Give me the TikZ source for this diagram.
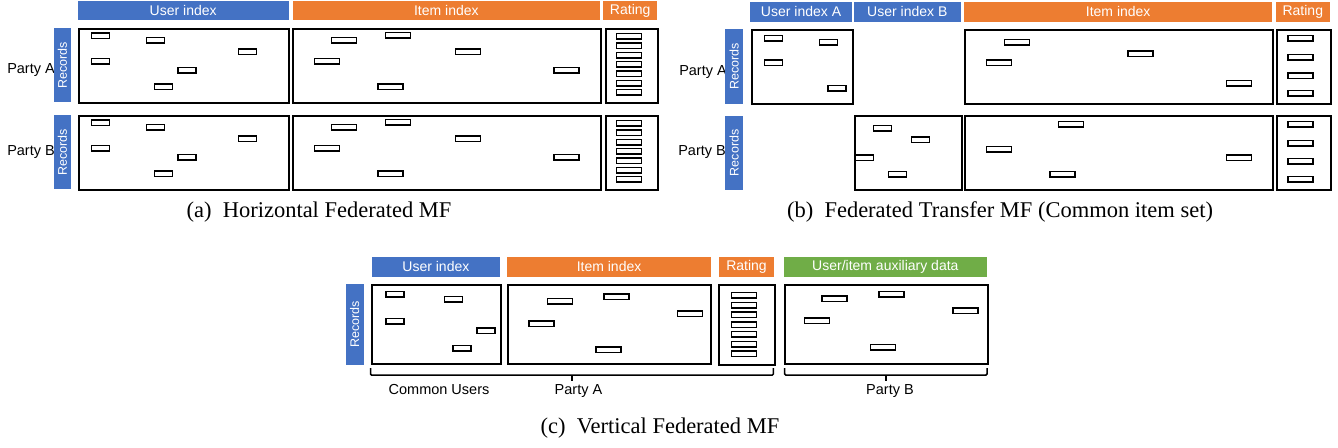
\documentclass[tikz,border=0pt]{standalone}
\usepackage{fontspec}
\usepackage{graphicx}
\setmainfont{Liberation Serif}
\newfontfamily\labfont{Liberation Sans}
\definecolor{hblue}{HTML}{4472C4}
\definecolor{horange}{HTML}{ED7D31}
\definecolor{hgreen}{HTML}{70AD47}
\tikzset{
  hdr/.style={fill=#1, draw=none, text=white, font=\labfont\fontsize{14}{16}\selectfont, inner sep=0pt},
  recbar/.style={fill=hblue, draw=none, text=white, font=\labfont\fontsize{12.5}{14}\selectfont, inner sep=0pt},
  frame/.style={draw=black, line width=2pt, fill=white, inner sep=0pt},
  cell/.style={draw=black, line width=1.5pt, fill=white},
  lab/.style={font=\labfont\fontsize{14.5}{16}\selectfont, inner sep=0pt},
  captxt/.style={font=\fontsize{22.5}{25}\selectfont, inner sep=0pt},
  brace/.style={draw=black, line width=1.5pt, rounded corners=1pt}
}
\newcommand{\blk}[7]{\node[#2, anchor=north west, minimum width={#5pt-#3pt}, minimum height={#6pt-#4pt}] (#1) at (#3,#4) {#7};}
\newcommand{\ucell}[2]{\draw[cell] (#1,#2) rectangle ++(18,5.5);}
\newcommand{\icell}[2]{\draw[cell] (#1,#2) rectangle ++(25,5.5);}
\begin{document}
\begin{tikzpicture}[x=1pt,y=-1pt]
\useasboundingbox[fill=white] (0,0) rectangle (1338,447);

% ================= (a) =================
\node[lab, anchor=base east] (aPA) at (55,73) {Party A};
\node[lab, anchor=base east] (aPB) at (55,155.5) {Party B};
\blk{aHU}{hdr=hblue}{77.5}{0.7}{288.5}{20}{User index}
\blk{aHI}{hdr=horange}{292.3}{0.7}{600}{20}{Item index}
\blk{aHR}{hdr=horange}{603}{0.7}{657}{20}{Rating}
\blk{aRA}{recbar}{53.5}{28}{71}{102}{\rotatebox{90}{Records}}
\blk{aRB}{recbar}{53.5}{115}{71}{189}{\rotatebox{90}{Records}}
\blk{aUA}{frame}{78.3}{27.7}{288}{102.3}{}
\blk{aIA}{frame}{292.3}{27.7}{600.3}{102.3}{}
\blk{aTA}{frame}{604.6}{27.7}{657}{102.3}{}
\blk{aUB}{frame}{78.3}{114.7}{288}{189.3}{}
\blk{aIB}{frame}{292.3}{114.7}{600.3}{189.3}{}
\blk{aTB}{frame}{604.6}{114.7}{657}{189.3}{}
\foreach \dy in {0,87}{
  \begin{scope}[shift={(0,\dy)}]
    \ucell{91.4}{33}\ucell{146.5}{37.7}\ucell{238.4}{49}
    \ucell{91.4}{58.7}\ucell{178.2}{67.7}\ucell{154.5}{84}
    \icell{331.5}{37.7}\icell{385.3}{32.7}\icell{455.5}{49}
    \icell{314.6}{58.7}\icell{554.2}{67.7}\icell{378}{84}
    \foreach \yy in {33.5,43.2,52.6,61.5,71,80.6,89.3}{\icell{616.4}{\yy}}
  \end{scope}
}
\node[captxt] (capA) at (319,212) {(a)\hspace{0.5em}Horizontal Federated MF};

% ================= (b) =================
\node[lab, anchor=base east] (bPA) at (727,75) {Party A};
\node[lab, anchor=base east] (bPB) at (726,155) {Party B};
\blk{bHUA}{hdr=hblue}{750}{1.7}{851.7}{21.7}{User index A}
\blk{bHUB}{hdr=hblue}{853.5}{1.7}{960.7}{21.7}{User index B}
\blk{bHI}{hdr=horange}{964}{1.7}{1272}{21.7}{Item index}
\blk{bHR}{hdr=horange}{1275.6}{1.7}{1329.6}{21.7}{Rating}
\blk{bRA}{recbar}{725}{29}{743}{103.3}{\rotatebox{90}{Records}}
\blk{bRB}{recbar}{725}{116}{743}{189.3}{\rotatebox{90}{Records}}
\blk{bUA}{frame}{750.5}{29.3}{851.7}{103.3}{}
\blk{bIA}{frame}{964.3}{29.3}{1272}{103.3}{}
\blk{bTA}{frame}{1275.6}{29.3}{1329.6}{103.3}{}
\blk{bUB}{frame}{853.5}{115.3}{960.7}{189.3}{}
\blk{bIB}{frame}{964.3}{115.3}{1272}{189.3}{}
\blk{bTB}{frame}{1275.6}{115.3}{1329.6}{189.3}{}
\ucell{764.3}{35.3}\ucell{819.6}{39.3}\ucell{764.3}{60}\ucell{827.8}{85.7}
\icell{1004.3}{39.3}\icell{1127.8}{50.9}\icell{986.5}{60}\icell{1226.5}{80.7}
\foreach \yy in {35.3,54.3,73,90.3}{\icell{1287.8}{\yy}}
\ucell{873.5}{125.7}\ucell{911.7}{136.8}\ucell{855.7}{155}\ucell{888.7}{171.3}
\icell{1058.3}{121.7}\icell{986.5}{146.4}\icell{1226.5}{155}\icell{1050}{171.3}
\foreach \yy in {121.6,140.5,158.5,176.6}{\icell{1287.8}{\yy}}
\node[captxt] (capB) at (1000,212) {(b)\hspace{0.5em}Federated Transfer MF (Common item set)};

% ================= (c) =================
\blk{cHU}{hdr=hblue}{371.4}{256.7}{500}{276.7}{User index}
\blk{cHI}{hdr=horange}{506.7}{256.7}{711}{276.7}{Item index}
\blk{cHR}{hdr=horange}{718.4}{256.7}{774.2}{276.7}{Rating}
\blk{cHX}{hdr=hgreen}{783.3}{256.7}{987}{276.7}{User/item auxiliary data}
\blk{cR}{recbar}{345.3}{284}{363.6}{364.3}{\rotatebox{90}{Records}}
\blk{cU}{frame}{371.4}{284.3}{500}{363.3}{}
\blk{cI}{frame}{506.7}{284.3}{710.3}{363.3}{}
\blk{cT}{frame}{718.4}{284.3}{774.2}{364.3}{}
\blk{cX}{frame}{784.3}{284.3}{987}{363.3}{}
\ucell{385.8}{291.7}\ucell{444.6}{296.3}\ucell{385.8}{318.7}\ucell{476.9}{327.8}\ucell{453}{345.7}
\icell{547.5}{298.3}\icell{604.2}{294}\icell{677.4}{310.9}\icell{528.8}{320.9}\icell{596}{347.2}
\foreach \yy in {292.3,302.3,312,322,331.6,341.6,351}{\icell{731.5}{\yy}}
\icell{822.2}{296.1}\icell{878.8}{291.4}\icell{952.9}{308.1}\icell{804.3}{318.2}\icell{870.5}{344.7}
% braces
\coordinate (bl1) at (370.5,368);
\coordinate (bl2) at (773.3,368);
\coordinate (blm) at (572,375);
\coordinate (br1) at (784.7,368);
\coordinate (br2) at (987,368);
\coordinate (brm) at (885.8,375);
\draw[brace] (bl1) -- (370.5,375) -- (773.3,375) -- (bl2);
\draw[brace] (blm) -- ++(0,6);
\draw[brace] (br1) -- (784.7,375) -- (987,375) -- (br2);
\draw[brace] (brm) -- ++(0,6);
\node[lab, anchor=base] (cCU) at (439,394) {Common Users};
\node[lab, anchor=base] (cPA) at (578.5,394) {Party A};
\node[lab, anchor=base] (cPB) at (890,394) {Party B};
\node[captxt] (capC) at (660,428) {(c)\hspace{0.5em}Vertical Federated MF};
\end{tikzpicture}
\end{document}
